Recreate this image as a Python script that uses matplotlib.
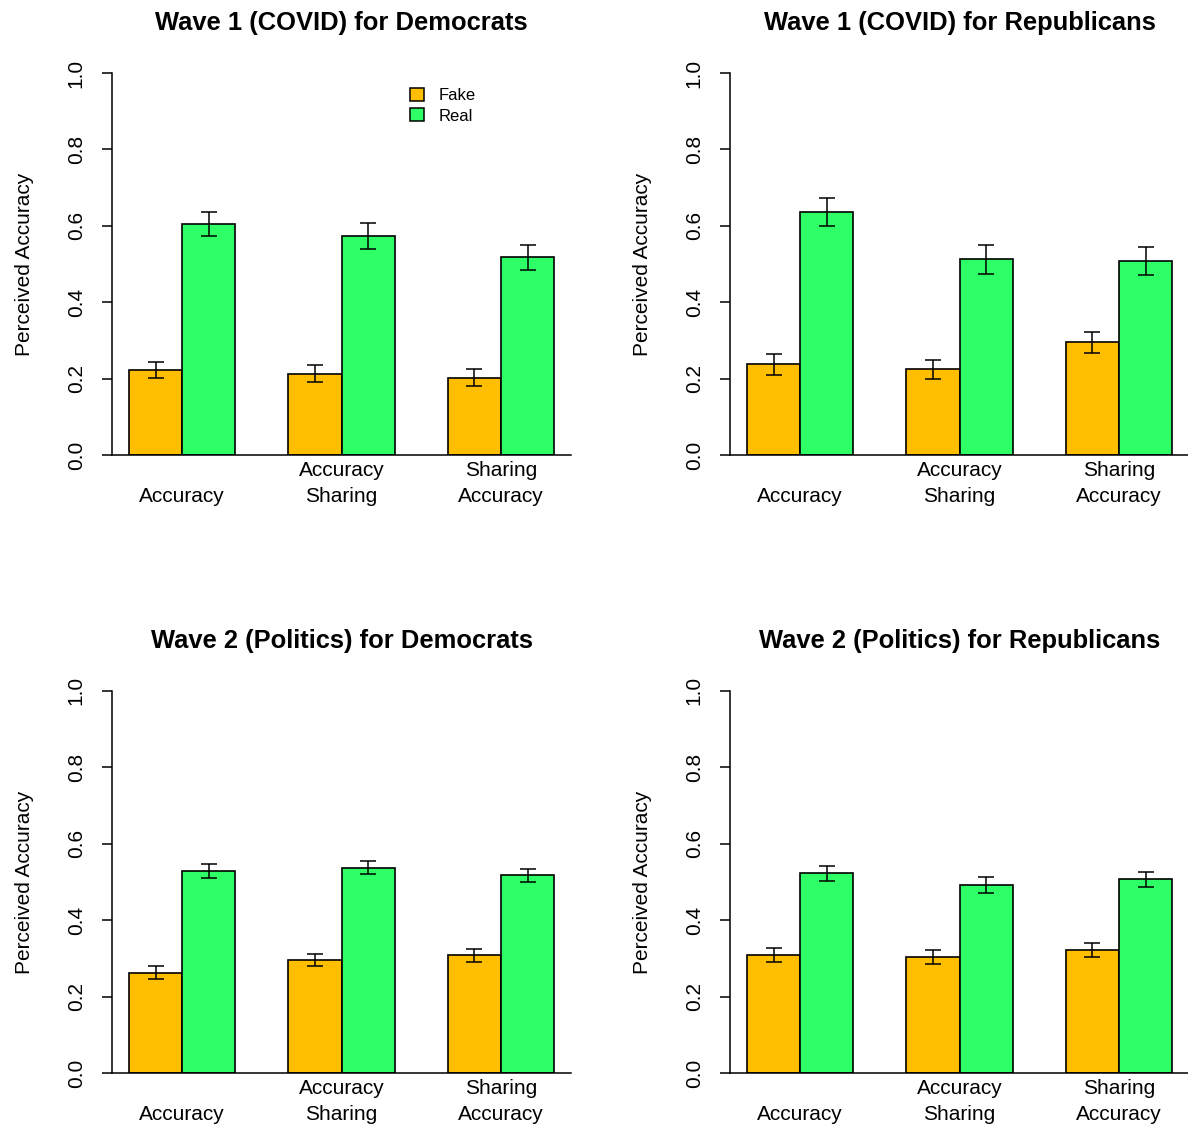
import matplotlib
matplotlib.use("Agg")
import matplotlib.pyplot as plt
from matplotlib.patches import Patch
import numpy as np

plt.rcParams['font.family'] = ['Liberation Sans', 'DejaVu Sans']

# data
conditions = ["\nAccuracy", "Accuracy\nSharing", "Sharing\nAccuracy"]
titles = ["Wave 1 (COVID) for Democrats", "Wave 1 (COVID) for Republicans",
          "Wave 2 (Politics) for Democrats", "Wave 2 (Politics) for Republicans"]

fake_means = [[0.222, 0.213, 0.202],
              [0.237, 0.224, 0.295],
              [0.262, 0.296, 0.308],
              [0.308, 0.303, 0.322]]
fake_errs = [[0.021, 0.022, 0.022],
             [0.027, 0.026, 0.027],
             [0.017, 0.015, 0.017],
             [0.018, 0.018, 0.018]]
real_means = [[0.605, 0.573, 0.518],
              [0.636, 0.512, 0.508],
              [0.528, 0.537, 0.518],
              [0.523, 0.492, 0.507]]
real_errs = [[0.031, 0.033, 0.033],
             [0.037, 0.039, 0.037],
             [0.018, 0.017, 0.017],
             [0.020, 0.020, 0.019]]

fake_col = "#FFBF00"
real_col = "#2EFF66"

fig = plt.figure(figsize=(11.88, 11.26), dpi=100)

# axes boxes in figure fractions (left, bottom, width, height)
boxes = [(0.0943, 0.5959, 0.3864, 0.3393),
         (0.6145, 0.5959, 0.3864, 0.3393),
         (0.0943, 0.0471, 0.3864, 0.3393),
         (0.6145, 0.0471, 0.3864, 0.3393)]

for k in range(4):
    ax = fig.add_axes(boxes[k])

    # R style barplot: bars width 1, groups of 2, one unit of space
    xf = np.array([1.5, 4.5, 7.5])
    xr = xf + 1
    ax.bar(xf, fake_means[k], width=1, color=fake_col, edgecolor="black", linewidth=1.2, zorder=2)
    ax.bar(xr, real_means[k], width=1, color=real_col, edgecolor="black", linewidth=1.2, zorder=2)
    ax.errorbar(xf, fake_means[k], yerr=fake_errs[k], fmt="none", ecolor="black",
                elinewidth=1.1, capsize=6, capthick=1.1, zorder=3)
    ax.errorbar(xr, real_means[k], yerr=real_errs[k], fmt="none", ecolor="black",
                elinewidth=1.1, capsize=6, capthick=1.1, zorder=3)

    ax.set_xlim(0.68, 9.32)
    ax.set_ylim(0, 1.0)

    for s in ["top", "right"]:
        ax.spines[s].set_visible(False)
    ax.spines["left"].set_linewidth(1.1)
    ax.spines["bottom"].set_linewidth(1.1)

    ax.set_yticks([0.0, 0.2, 0.4, 0.6, 0.8, 1.0])
    ax.set_yticklabels(["0.0", "0.2", "0.4", "0.6", "0.8", "1.0"], rotation=90, va="center")
    ax.tick_params(axis="y", length=7, width=1.1, pad=12, labelsize=15)

    ax.set_xticks(xf + 0.5)
    ax.set_xticklabels(conditions, linespacing=1.47)
    ax.tick_params(axis="x", length=0, pad=4.5, labelsize=15)

    ax.set_ylabel("Perceived Accuracy", fontsize=15, va="center")
    ax.yaxis.set_label_coords(-0.19, 0.5)

    ax.set_title(titles[k], fontsize=18.4, fontweight="bold", y=1.11, va="center")

    if k == 0:
        handles = [Patch(facecolor=fake_col, edgecolor="black", linewidth=1.1),
                   Patch(facecolor=real_col, edgecolor="black", linewidth=1.1)]
        ax.legend(handles, ["Fake", "Real"], loc="upper left", bbox_to_anchor=(0.65, 0.96),
                  frameon=False, fontsize=12, handlelength=0.8, handleheight=0.8,
                  handletextpad=0.9, labelspacing=0.3, borderpad=0, borderaxespad=0)

fig.savefig("out.png", dpi=100)
